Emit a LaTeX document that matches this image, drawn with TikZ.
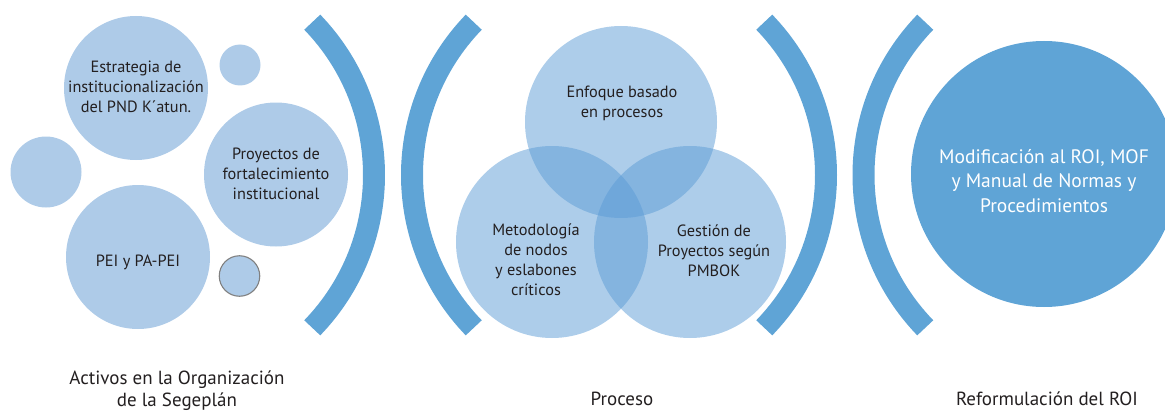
\documentclass[tikz,border=0pt]{standalone}
\usepackage{fontspec}
\setmainfont{PT Sans}
\definecolor{brk}{RGB}{95,164,214}
\definecolor{lite}{RGB}{174,203,232}
\definecolor{venn}{RGB}{91,155,213}
\definecolor{txt}{RGB}{35,31,32}
\begin{document}
\begin{tikzpicture}[x=1pt,y=-1pt,
  litecirc/.style={circle,fill=lite,inner sep=0pt},
  venncirc/.style={circle,fill=venn,fill opacity=0.5,inner sep=0pt,minimum size=192pt},
  bracketarc/.style={draw=brk,line width=22pt},
  ctext/.style={align=center,text=txt,font=\fontsize{16.3}{20}\selectfont},
  btext/.style={align=center,text=txt,font=\fontsize{19}{22}\selectfont},
  wtext/.style={align=center,text=white,font=\fontsize{19.5}{24.5}\selectfont}]
\useasboundingbox (0,0) rectangle (1165,412);
\clip (0,0) rectangle (1165,412);
% left cluster
\node[litecirc,minimum size=144pt] (estr) at (136,88) {};
\node[litecirc,minimum size=41pt] (dotA) at (240,65) {};
\node[litecirc,minimum size=71pt] (dotB) at (46,172) {};
\node[litecirc,minimum size=144pt] (proy) at (276,174.5) {};
\node[litecirc,minimum size=144pt] (pei) at (138,257) {};
\node[litecirc,minimum size=40.5pt,draw={rgb,255:red,128;green,128;blue,128},line width=1.1pt] (dotC) at (239.5,276) {};
\node[ctext] (estrT) at (136,86.5) {Estrategia de\\institucionalización\\del PND K´atun.};
\node[ctext] (proyT) at (276,173.5) {Proyectos de\\fortalecimiento\\institucional};
\node[ctext] (peiT) at (138,262.5) {PEI y PA-PEI};
% brackets
\draw[bracketarc] ([shift={(-44:220)}]154,175) arc[start angle=-44,end angle=44,radius=220];
\draw[bracketarc] ([shift={(224:220)}]632,175) arc[start angle=224,end angle=136,radius=220];
\draw[bracketarc] ([shift={(-44:220)}]606,175) arc[start angle=-44,end angle=44,radius=220];
\draw[bracketarc] ([shift={(224:220)}]1083.5,175) arc[start angle=224,end angle=136,radius=220];
% venn
\node[venncirc] (vtop) at (621,122) {};
\node[venncirc] (vleft) at (552,242) {};
\node[venncirc] (vright) at (690,242) {};
\node[ctext] (vtopT) at (622,103.5) {Enfoque basado\\en procesos};
\node[ctext] (vleftT) at (536,259.5) {Metodología\\de nodos\\y eslabones\\críticos};
\node[ctext] (vrightT) at (714,251) {Gestión de\\Proyectos según\\PMBOK};
% result
\node[circle,fill=brk,inner sep=0pt,minimum size=266pt] (roi) at (1044,174) {};
\node[wtext] (roiT) at (1044,181) {Modificación al ROI, MOF\\y Manual de Normas y\\Procedimientos};
% bottom labels
\node[btext] (lab1) at (177,390.5) {Activos en la Organización\\de la Segeplán};
\node[btext] (lab2) at (622,399) {Proceso};
\node[btext] (lab3) at (1047,399) {Reformulación del ROI};
\end{tikzpicture}
\end{document}
